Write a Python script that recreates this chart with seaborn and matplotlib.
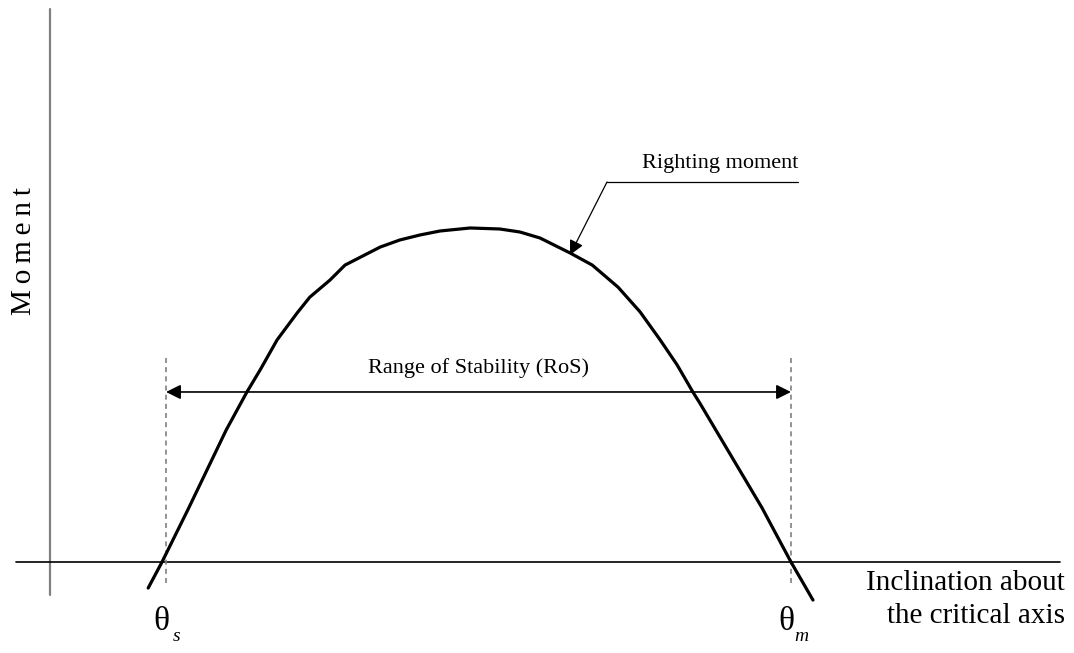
import matplotlib.pyplot as plt
import seaborn as sns

sns.set_style("white")
plt.rcParams["font.family"] = ["Liberation Serif", "DejaVu Serif"]
plt.rcParams["text.color"] = "black"

# righting moment curve (inclination in % of range, moment in % of max)
curve_x = [-2.2, 0.0, 4.1, 10.2, 13.5, 15.6, 18.3, 21.5, 23.5, 26.7, 29.1, 34.7,
           37.8, 41.0, 44.2, 49.0, 53.7, 56.9, 60.1, 64.9, 68.4, 72.5, 76.0,
           79.2, 81.9, 84.4, 85.5, 95.4, 100.0, 103.5]
curve_y = [-7.8, 0.0, 15.6, 39.5, 50.9, 57.5, 66.5, 74.6, 79.3, 84.4, 88.9, 94.3,
           96.4, 97.9, 99.1, 100.0, 99.7, 98.8, 97.0, 92.5, 88.9, 82.3, 74.9,
           66.5, 59.0, 50.9, 47.6, 16.2, 0.0, -11.4]

theta_s = 0.64
theta_m = 100.0
ros_label = "Range of Stability (RoS)"
curve_label = "Righting moment"
y_label = "M\u2009o\u2009m\u2009e\u2009n\u2009t"
x_label = ["Inclination about", "the critical axis"]

fig = plt.figure(figsize=(10.74, 6.53), dpi=100)
ax = fig.add_axes([0, 0, 1, 1])
ax.set_xlim(-25.76, 145.0)
ax.set_ylim(-27.25, 168.26)
ax.axis("off")

# axes lines
ax.plot([-17.81, -17.81], [-9.88, 165.57], color="#808080", lw=1.6)
ax.plot([-23.21, 142.77], [0, 0], color="black", lw=1.2)

# limit lines
for xv in (theta_s, theta_m):
    ax.plot([xv, xv], [-6.29, 61.08], color="#808080", lw=1.2,
            linestyle=(0, (3, 2.5)))

sns.lineplot(x=curve_x, y=curve_y, sort=False, estimator=None, color="black",
             lw=2.3, ax=ax)

# range of stability
ax.annotate("", xy=(theta_s, 50.9), xytext=(theta_m, 50.9),
            arrowprops=dict(arrowstyle="<|-|>", color="black", lw=1.2,
                            mutation_scale=22, shrinkA=0, shrinkB=0))
ax.text((theta_s + theta_m) / 2, 56.6, ros_label, ha="center", va="baseline",
        fontsize=16)

# righting moment leader
ax.plot([70.75, 101.1], [113.77, 113.77], color="black", lw=0.9)
ax.annotate("", xy=(64.86, 91.92), xytext=(70.75, 113.77),
            arrowprops=dict(arrowstyle="-|>", color="black", lw=0.9,
                            mutation_scale=22, shrinkA=0, shrinkB=0))
ax.text(101.1, 118.0, curve_label, ha="right", va="baseline", fontsize=16)

# labels
ax.text(-21.94, 93.1, y_label, rotation=90, ha="center", va="center",
        fontsize=21)
ax.text(143.56, -8.38, x_label[0], ha="right", va="baseline", fontsize=21)
ax.text(143.56, -18.26, x_label[1], ha="right", va="baseline", fontsize=21)

for xv, sub in ((theta_s, "s"), (theta_m, "m")):
    ax.text(xv - 0.8, -18.0, "θ", ha="center", va="center", fontsize=24)
    ax.text(xv + 1.6, -22.4, sub, ha="center", va="center", fontsize=14,
            style="italic")

fig.savefig("out.png", dpi=100)
